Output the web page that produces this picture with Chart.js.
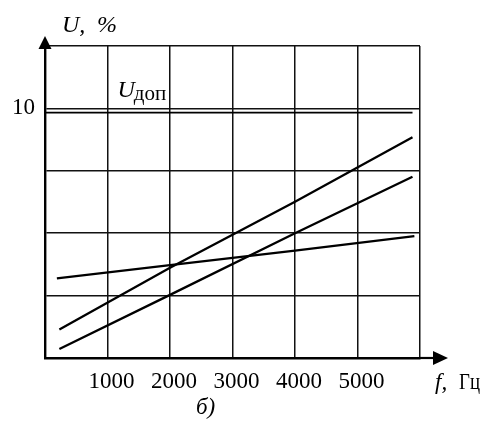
<!DOCTYPE html>
<html>
<head>
<meta charset="utf-8">
<script src="https://cdn.jsdelivr.net/npm/chart.js@4.4.1/dist/chart.umd.min.js"></script>
<style>
    html, body { margin: 0; padding: 0; background: #fff; }
    canvas { display: block; }
</style>
</head>
<body>
<canvas id="chart" width="481" height="426"></canvas>
<script>
// Frequency (Hz) and voltage (%) for the three measured curves
const upperFreq = [230, 2000, 4000, 5880];
const upperU = [1.14, 3.62, 6.26, 8.84];

const lowerFreq = [230, 2000, 4000, 5880];
const lowerU = [0.36, 2.53, 5.0, 7.26];

const flatFreq = [190, 2000, 4000, 5910];
const flatU = [3.19, 3.72, 4.3, 4.88];

// Permissible level U_доп
const limitFreq = [0, 5880];
const limitU = [9.83, 9.83];

// Axis ranges and labelled ticks
const xMax = 6000;
const xStep = 1000;
const xTickLabels = [1000, 2000, 3000, 4000, 5000];
const yMax = 12.5;
const yStep = 2.5;
const yTickLabels = [10];

const SERIF = "'Liberation Serif', 'DejaVu Serif', serif";

function toPoints(xs, ys) {
    return xs.map((x, i) => ({ x: x, y: ys[i] }));
}

function lineDataset(xs, ys, width) {
    return {
        data: toPoints(xs, ys),
        borderColor: '#000',
        borderWidth: width,
        pointRadius: 0,
        tension: 0,
        fill: false
    };
}

// Axis arrows and captions drawn on top of the plot
const decorations = {
    id: 'decorations',
    afterDraw(chart) {
        const ctx = chart.ctx;
        const { left, right, top, bottom } = chart.chartArea;
        const xs = chart.scales.x;
        const ys = chart.scales.y;

        ctx.save();
        ctx.fillStyle = '#000';
        ctx.strokeStyle = '#000';
        ctx.lineWidth = 2.2;

        // x axis extension and arrow
        ctx.beginPath();
        ctx.moveTo(right, bottom);
        ctx.lineTo(right + 14, bottom);
        ctx.stroke();
        ctx.beginPath();
        ctx.moveTo(right + 28, bottom);
        ctx.lineTo(right + 13, bottom - 7);
        ctx.lineTo(right + 13, bottom + 7);
        ctx.closePath();
        ctx.fill();

        // y axis arrow
        ctx.beginPath();
        ctx.moveTo(left, top - 10);
        ctx.lineTo(left - 6.5, top + 3);
        ctx.lineTo(left + 6.5, top + 3);
        ctx.closePath();
        ctx.fill();

        ctx.textBaseline = 'alphabetic';
        ctx.textAlign = 'left';

        // y axis caption
        ctx.font = 'italic 24px ' + SERIF;
        ctx.fillText('U,', left + 17, top - 14);
        ctx.fillText('%', left + 52, top - 14);

        // x axis caption
        const capY = bottom + 31;
        ctx.font = 'italic 23px ' + SERIF;
        ctx.fillText('f,', right + 15, capY);
        ctx.font = '23px ' + SERIF;
        ctx.fillText('Гц', right + 39, capY, 21);

        // label for the permissible level line
        const ly = ys.getPixelForValue(limitU[0]);
        const lx = xs.getPixelForValue(1160);
        ctx.font = 'italic 24px ' + SERIF;
        ctx.fillText('U', lx, ly - 16);
        const uw = ctx.measureText('U').width;
        ctx.font = '21px ' + SERIF;
        ctx.fillText('доп', lx + uw - 1, ly - 13);

        // panel letter
        ctx.font = 'italic 23px ' + SERIF;
        ctx.textAlign = 'center';
        ctx.fillText('б)', xs.getPixelForValue(2570), bottom + 56);

        ctx.restore();
    }
};

const chart = new Chart(document.getElementById('chart'), {
    type: 'line',
    data: {
        datasets: [
            lineDataset(limitFreq, limitU, 1.8),
            lineDataset(upperFreq, upperU, 2.3),
            lineDataset(lowerFreq, lowerU, 2.3),
            lineDataset(flatFreq, flatU, 2.3)
        ]
    },
    options: {
        responsive: false,
        animation: false,
        devicePixelRatio: 1,
        layout: {
            padding: { top: 46, right: 61, left: 0, bottom: 0 }
        },
        plugins: {
            legend: { display: false },
            tooltip: { enabled: false },
            title: { display: false }
        },
        scales: {
            x: {
                type: 'linear',
                min: 0,
                max: xMax,
                afterFit: scale => { scale.height = 68; },
                grid: { color: '#111', lineWidth: 1.5, drawTicks: false },
                border: { color: '#000', width: 2.4 },
                ticks: {
                    stepSize: xStep,
                    autoSkip: false,
                    maxRotation: 0,
                    padding: 10,
                    labelOffset: 4,
                    color: '#000',
                    font: { family: SERIF, size: 23 },
                    callback: value => xTickLabels.includes(value) ? String(value) : ''
                }
            },
            y: {
                type: 'linear',
                min: 0,
                max: yMax,
                afterFit: scale => { scale.width = 45; },
                grid: { color: '#111', lineWidth: 1.5, drawTicks: false },
                border: { color: '#000', width: 2.4 },
                ticks: {
                    stepSize: yStep,
                    autoSkip: false,
                    padding: 10,
                    color: '#000',
                    font: { family: SERIF, size: 23 },
                    callback: value => yTickLabels.includes(value) ? String(value) : ''
                }
            }
        }
    },
    plugins: [decorations]
});
</script>
</body>
</html>
